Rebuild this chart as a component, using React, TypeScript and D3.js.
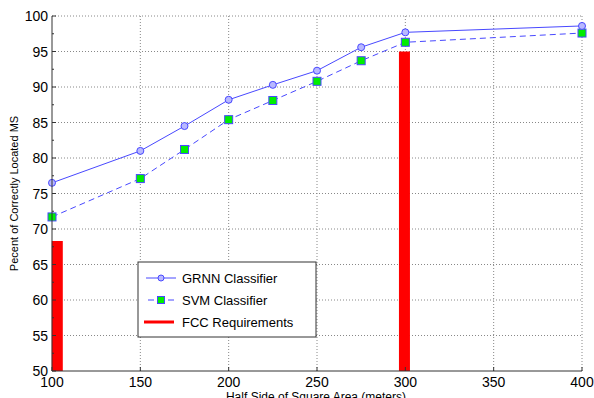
import * as d3 from "d3";

// x positions (half side, meters)
const sides = [100, 150, 175, 200, 225, 250, 275, 300, 400];
const grnn = [76.5, 81.0, 84.5, 88.2, 90.3, 92.3, 95.6, 97.7, 98.6];
const svm = [71.7, 77.1, 81.2, 85.4, 88.1, 90.8, 93.7, 96.3, 97.6];

// FCC requirement bars
const fccX = [103, 299.5];
const fccY = [68.3, 95.0];

const xTicks = [100, 150, 200, 250, 300, 350, 400];
const yTicks = [50, 55, 60, 65, 70, 75, 80, 85, 90, 95, 100];

const W = 594;
const H = 398;
const left = 52, right = 582, top = 16, bottom = 371;

const App = () => {
  const x = d3.scaleLinear().domain([100, 400]).range([left, right]);
  const y = d3.scaleLinear().domain([50, 100]).range([bottom, top]);

  const line = d3.line<number>()
    .x((_, i) => x(sides[i]))
    .y((d) => y(d));

  const font = "Arial, 'Liberation Sans', sans-serif";
  const blue = "#4848ff";

  // minor ticks on y axis
  const minor = d3.range(52.5, 100, 5);

  return (
    <div style={{ position: "fixed", left: 0, top: 0 }}>
      <svg width={W} height={H} style={{ display: "block", background: "#fff" }}>
        {/* grid */}
        {xTicks.slice(1).map((t) => (
          <line key={"gx" + t} x1={x(t)} x2={x(t)} y1={top} y2={bottom}
            stroke="#888" strokeWidth={1} strokeDasharray="1,2" />
        ))}
        {yTicks.slice(1).map((t) => (
          <line key={"gy" + t} x1={left} x2={right} y1={y(t)} y2={y(t)}
            stroke="#888" strokeWidth={1} strokeDasharray="1,2" />
        ))}

        {/* FCC bars */}
        {fccX.map((fx, i) => (
          <line key={"fcc" + i} x1={x(fx)} x2={x(fx)} y1={y(50)} y2={y(fccY[i])}
            stroke="#ff0000" strokeWidth={11} />
        ))}

        {/* SVM */}
        <path d={line(svm) ?? ""} fill="none" stroke={blue} strokeWidth={1}
          strokeDasharray="6,4" />
        {svm.map((v, i) => (
          <rect key={"s" + i} x={x(sides[i]) - 4} y={y(v) - 4} width={8} height={8}
            fill="#00ee00" stroke={blue} strokeWidth={1} />
        ))}

        {/* GRNN */}
        <path d={line(grnn) ?? ""} fill="none" stroke={blue} strokeWidth={1} />
        {grnn.map((v, i) => (
          <circle key={"g" + i} cx={x(sides[i])} cy={y(v)} r={3.5}
            fill="#b8b8ff" stroke={blue} strokeWidth={1} />
        ))}

        {/* axes */}
        <line x1={left} x2={left} y1={top} y2={bottom} stroke="#333" />
        <line x1={left} x2={right} y1={bottom} y2={bottom} stroke="#333" />
        {yTicks.map((t) => (
          <g key={"yt" + t}>
            <line x1={left} x2={left + 4} y1={y(t)} y2={y(t)} stroke="#333" />
            <text x={left - 4} y={y(t) + 5} textAnchor="end" fontFamily={font}
              fontSize={14} fill="#000">{t}</text>
          </g>
        ))}
        {minor.map((t) => (
          <line key={"ym" + t} x1={left} x2={left + 2} y1={y(t)} y2={y(t)} stroke="#333" />
        ))}
        {xTicks.map((t) => (
          <g key={"xt" + t}>
            <line x1={x(t)} x2={x(t)} y1={bottom} y2={bottom - 4} stroke="#333" />
            <text x={x(t)} y={bottom + 16} textAnchor="middle" fontFamily={font}
              fontSize={14} fill="#000">{t}</text>
          </g>
        ))}

        <text x={316} y={401} textAnchor="middle" fontFamily={font} fontSize={12}>
          Half Side of Square Area (meters)
        </text>
        <text transform={`translate(18, ${(top + bottom) / 2}) rotate(-90)`}
          textAnchor="middle" fontFamily={font} fontSize={11}>
          Pecent of Correctly Located MS
        </text>

        {/* legend */}
        <g>
          <rect x={138} y={262} width={178} height={75} fill="#fff" stroke="#333" />
          <line x1={146} x2={176} y1={278} y2={278} stroke={blue} />
          <circle cx={161} cy={278} r={3} fill="#b8b8ff" stroke={blue} />
          <text x={182} y={283} fontFamily={font} fontSize={13}>GRNN Classifier</text>

          <line x1={148} x2={174} y1={300} y2={300} stroke={blue} strokeDasharray="6,4" />
          <rect x={157.5} y={296.5} width={7} height={7} fill="#00ee00" stroke={blue} />
          <text x={182} y={305} fontFamily={font} fontSize={13}>SVM Classifier</text>

          <line x1={144} x2={174} y1={322} y2={322} stroke="#ff0000" strokeWidth={3} />
          <text x={182} y={327} fontFamily={font} fontSize={13}>FCC Requirements</text>
        </g>
      </svg>
    </div>
  );
};

export default App;
